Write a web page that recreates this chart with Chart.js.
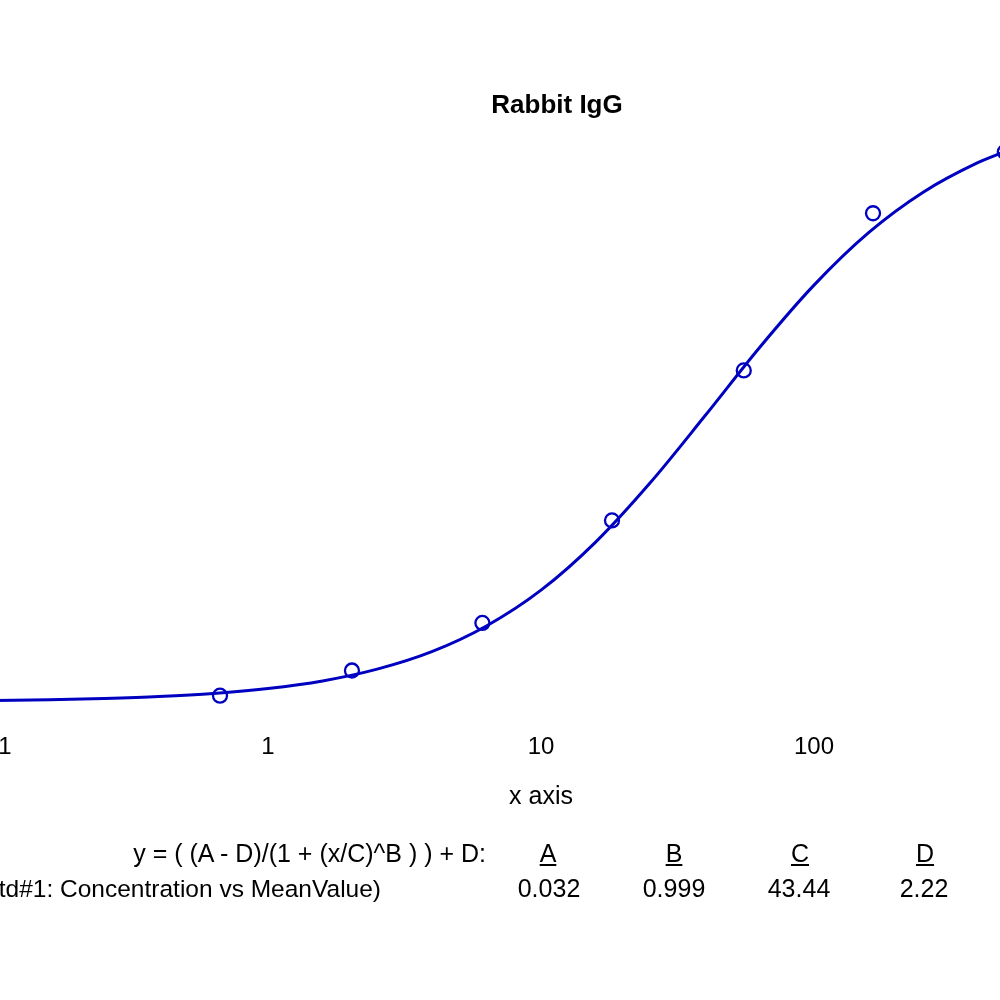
<!DOCTYPE html>
<html>
<head>
<meta charset="utf-8">
<script src="https://cdn.jsdelivr.net/npm/chart.js@4.4.1/dist/chart.umd.min.js"></script>
<style>
  html, body { margin: 0; padding: 0; background: #fff; overflow: hidden; width: 1000px; height: 1000px; }
  #wrap { position: absolute; left: -300px; top: 0; width: 1714px; height: 1000px; }
  .t { position: absolute; font-family: "Liberation Sans", Arial, sans-serif; font-size: 25px; line-height: 25px; color: #000; white-space: nowrap; }
  .r { text-align: right; }
  .c { text-align: center; width: 120px; }
  .u { text-decoration: underline; }
</style>
</head>
<body>
<div id="wrap"><canvas id="chart" width="1714" height="1000"></canvas></div>

<div class="t r" style="right:514px; top:841px;">y = ( (A - D)/(1 + (x/C)^B ) ) + D:</div>
<div class="t r" style="right:619px; top:876px; font-size:24.5px;">(Std#1: Concentration vs MeanValue)</div>
<div class="t c" style="left:488px; top:841px;"><span class="u">A</span></div>
<div class="t c" style="left:614px; top:841px;"><span class="u">B</span></div>
<div class="t c" style="left:740px; top:841px;"><span class="u">C</span></div>
<div class="t c" style="left:865px; top:841px;"><span class="u">D</span></div>
<div class="t c" style="left:489px; top:876px;">0.032</div>
<div class="t c" style="left:614px; top:876px;">0.999</div>
<div class="t c" style="left:739px; top:876px;">43.44</div>
<div class="t c" style="left:864px; top:876px;">2.22</div>

<script>
// Measured standards (concentration vs mean value)
const stdX = [0.667, 2.03, 6.1, 18.2, 55.3, 164.5, 500];
const stdY = [0.055, 0.147, 0.321, 0.696, 1.245, 1.820, 2.044];

const curveX = [0.0398, 0.0631, 0.1, 0.1585, 0.2512, 0.3981, 0.631, 1, 1.585, 2.512, 3.981, 6.31, 10, 15.85, 25.12, 39.81, 63.1, 100, 158.5, 251.2, 398.1, 501.2];
const curveY = [0.034, 0.035, 0.037, 0.040, 0.045, 0.052, 0.063, 0.081, 0.109, 0.152, 0.216, 0.310, 0.441, 0.617, 0.834, 1.078, 1.328, 1.557, 1.749, 1.897, 2.005, 2.046];

const xTicks = [0.1, 1, 10, 100, 1000];
const titleText = 'Rabbit IgG';
const xTitle = 'x axis';

const blue = '#0000c0';
const FONT = '"Liberation Sans", Arial, sans-serif';

new Chart(document.getElementById('chart'), {
  type: 'scatter',
  data: {
    datasets: [
      {
        type: 'line',
        data: curveX.map((x, i) => ({ x: x, y: curveY[i] })),
        borderColor: blue,
        borderWidth: 3,
        pointRadius: 0,
        cubicInterpolationMode: 'monotone',
        fill: false,
        order: 2
      },
      {
        type: 'scatter',
        data: stdX.map((x, i) => ({ x: x, y: stdY[i] })),
        borderColor: blue,
        backgroundColor: 'rgba(0,0,0,0)',
        pointRadius: 7,
        pointBorderWidth: 2.3,
        pointStyle: 'circle',
        showLine: false,
        order: 1
      }
    ]
  },
  options: {
    responsive: false,
    animation: false,
    devicePixelRatio: 1,
    layout: { autoPadding: false, padding: { left: 0, right: 0, top: 0, bottom: 183.5 } },
    plugins: {
      legend: { display: false },
      tooltip: { enabled: false },
      title: {
        display: true,
        text: titleText,
        color: '#000',
        font: { family: FONT, size: 26, weight: 'bold' },
        padding: { top: 90, bottom: 8 }
      }
    },
    scales: {
      x: {
        type: 'logarithmic',
        min: 0.008305,
        max: 12040,
        grid: { display: false, drawTicks: false },
        border: { display: false },
        afterBuildTicks: (scale) => { scale.ticks = xTicks.map(v => ({ value: v })); },
        ticks: {
          color: '#000',
          font: { family: FONT, size: 24 },
          padding: 12,
          maxRotation: 0,
          autoSkip: false,
          callback: (v) => String(v)
        },
        title: {
          display: true,
          text: xTitle,
          color: '#000',
          font: { family: FONT, size: 25 },
          padding: { top: 9, bottom: 4 }
        }
      },
      y: {
        type: 'linear',
        position: 'right',
        display: true,
        min: -0.0366,
        max: 2.1275,
        grid: { display: false, drawTicks: false },
        border: { display: false },
        ticks: { display: false },
        afterFit: (scale) => { scale.width = 32; }
      }
    }
  }
});
</script>
</body>
</html>
